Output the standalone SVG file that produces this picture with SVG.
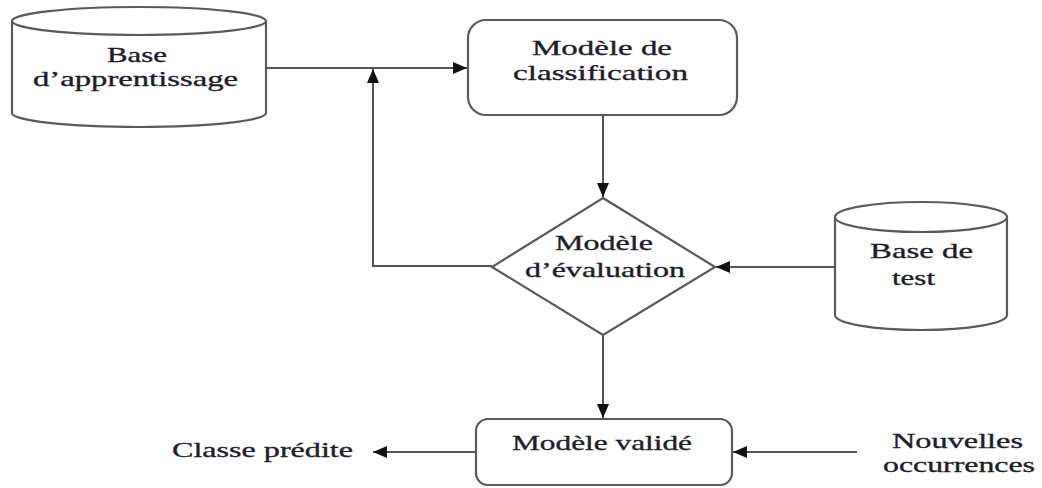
<svg xmlns="http://www.w3.org/2000/svg" width="1042" height="488" viewBox="0 0 1042 488">
  <style>
    .shape { fill: #ffffff; stroke: #5a5a5a; stroke-width: 2.2; }
    .edge { fill: none; stroke: #555555; stroke-width: 2; }
    .lbl { font-family: "Liberation Serif", "Times New Roman", serif; font-size: 22px; fill: #1e1e2a; stroke: #1e1e2a; stroke-width: 0.35; }
  </style>
  <defs>
    <marker id="arrow" viewBox="0 0 14 12" refX="14" refY="6" markerWidth="14" markerHeight="12" orient="auto" markerUnits="userSpaceOnUse">
      <path d="M0,0 L14,6 L0,12 z" fill="#111111"/>
    </marker>
  </defs>
  <rect width="1042" height="488" fill="#ffffff"/>

  <!-- training base (cylinder) -->
  <g id="base-apprentissage">
    <path class="shape" d="M12,21 L12,113 A127,14 0 0 0 266,113 L266,21"/>
    <ellipse class="shape" cx="139" cy="21" rx="127" ry="14"/>
    <text class="lbl" x="107" y="62" textLength="60" lengthAdjust="spacingAndGlyphs">Base</text>
    <text class="lbl" x="33" y="86" textLength="205" lengthAdjust="spacingAndGlyphs">d’apprentissage</text>
  </g>

  <!-- classification model -->
  <g id="modele-classification">
    <rect class="shape" x="468" y="20" width="269" height="95" rx="18" ry="18"/>
    <text class="lbl" x="532" y="55" textLength="140" lengthAdjust="spacingAndGlyphs">Modèle de</text>
    <text class="lbl" x="513" y="80" textLength="175" lengthAdjust="spacingAndGlyphs">classification</text>
  </g>

  <!-- evaluation model (decision) -->
  <g id="modele-evaluation">
    <polygon class="shape" points="603,198 715,267 603,335 492,267"/>
    <text class="lbl" x="555" y="250" textLength="98" lengthAdjust="spacingAndGlyphs">Modèle</text>
    <text class="lbl" x="525" y="277" textLength="160" lengthAdjust="spacingAndGlyphs">d’évaluation</text>
  </g>

  <!-- test base (cylinder) -->
  <g id="base-test">
    <path class="shape" d="M835,217 L835,315 A86,15 0 0 0 1007,315 L1007,217"/>
    <ellipse class="shape" cx="921" cy="217" rx="86" ry="15"/>
    <text class="lbl" x="870" y="258" textLength="103" lengthAdjust="spacingAndGlyphs">Base de</text>
    <text class="lbl" x="892" y="285" textLength="43" lengthAdjust="spacingAndGlyphs">test</text>
  </g>

  <!-- validated model -->
  <g id="modele-valide">
    <rect class="shape" x="476" y="419" width="256" height="66" rx="12" ry="12"/>
    <text class="lbl" x="512" y="450" textLength="180" lengthAdjust="spacingAndGlyphs">Modèle validé</text>
  </g>

  <!-- free labels -->
  <g id="classe-predite">
    <text class="lbl" x="172" y="457" textLength="181" lengthAdjust="spacingAndGlyphs">Classe prédite</text>
  </g>
  <g id="nouvelles-occurrences">
    <text class="lbl" x="892" y="448" textLength="131" lengthAdjust="spacingAndGlyphs">Nouvelles</text>
    <text class="lbl" x="883" y="472" textLength="152" lengthAdjust="spacingAndGlyphs">occurrences</text>
  </g>

  <!-- connectors -->
  <g id="connectors">
    <line class="edge" x1="266" y1="68" x2="467" y2="68" marker-end="url(#arrow)"/>
    <line class="edge" x1="603" y1="115" x2="603" y2="197" marker-end="url(#arrow)"/>
    <polyline class="edge" points="492,266 373,266 373,69" marker-end="url(#arrow)"/>
    <line class="edge" x1="835" y1="267" x2="716" y2="267" marker-end="url(#arrow)"/>
    <line class="edge" x1="603" y1="335" x2="603" y2="418" marker-end="url(#arrow)"/>
    <line class="edge" x1="857" y1="452" x2="733" y2="452" marker-end="url(#arrow)"/>
    <line class="edge" x1="476" y1="452" x2="373" y2="452" marker-end="url(#arrow)"/>
  </g>
</svg>
